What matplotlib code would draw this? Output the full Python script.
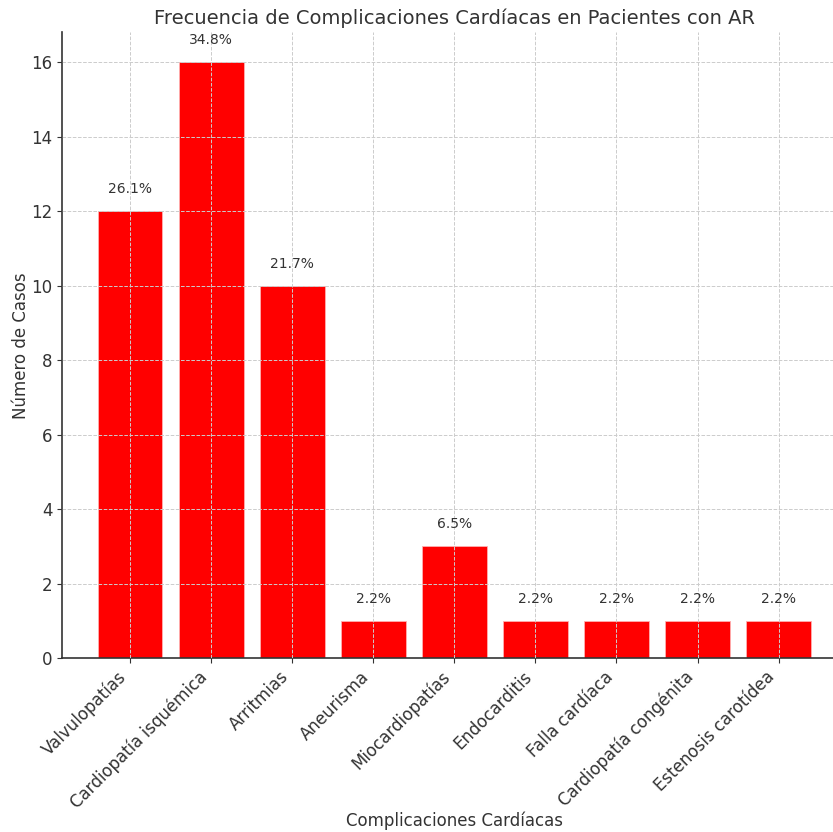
import matplotlib
matplotlib.use("Agg")
import matplotlib.pyplot as plt

categories = ["Valvulopatías", "Cardiopatía isquémica", "Arritmias", "Aneurisma",
              "Miocardiopatías", "Endocarditis", "Falla cardíaca",
              "Cardiopatía congénita", "Estenosis carotídea"]
counts = [12, 16, 10, 1, 3, 1, 1, 1, 1]
percent_labels = ["26.1%", "34.8%", "21.7%", "2.2%", "6.5%", "2.2%", "2.2%", "2.2%", "2.2%"]

txt = "#333333"
fig = plt.figure(figsize=(8.33, 8.32), dpi=100)
ax = fig.add_axes([0.0744, 0.209, 0.942, 0.752])
x = list(range(len(categories)))
ax.bar(x, counts, width=0.8, color="red", edgecolor="#ffb0b0", linewidth=0.6)
for xi, c, p in zip(x, counts, percent_labels):
    ax.text(xi, c + 0.4, p, ha="center", va="bottom", fontsize=10, color=txt)

ax.set_xticks(x)
ax.set_xticklabels(categories, rotation=45, ha="right", fontsize=12, color=txt)
ax.set_xlim(-0.84, 8.84)
ax.set_ylim(0, 16.8)
ax.set_yticks([0, 2, 4, 6, 8, 10, 12, 14, 16])
ax.tick_params(axis="y", labelsize=12, labelcolor=txt)
ax.tick_params(axis="both", color=txt, length=3.5)
ax.grid(True, linestyle="--", color="#cccccc", linewidth=0.7)
ax.set_axisbelow(False)
for s in ["top", "right"]:
    ax.spines[s].set_visible(False)
for s in ["left", "bottom"]:
    ax.spines[s].set_color(txt)
    ax.spines[s].set_linewidth(1.2)
ax.set_title("Frecuencia de Complicaciones Cardíacas en Pacientes con AR", fontsize=14, color=txt)
ax.set_xlabel("Complicaciones Cardíacas", fontsize=12, color=txt)
ax.xaxis.set_label_coords(0.5, -0.245)
ax.set_ylabel("Número de Casos", fontsize=12, color=txt, labelpad=1)
fig.savefig("out.png", dpi=100)
